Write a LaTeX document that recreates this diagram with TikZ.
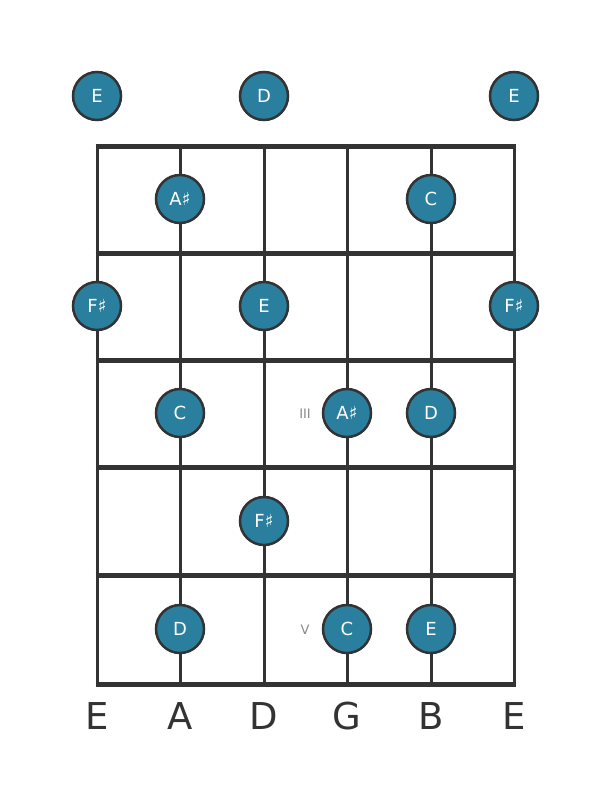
\documentclass[tikz,border=0pt]{standalone}
\usepackage{fontspec}
\setmainfont{DejaVu Sans}
\definecolor{notefill}{HTML}{2A7F9E}
\definecolor{ink}{HTML}{333333}
\definecolor{mark}{HTML}{888888}
\begin{document}
\begin{tikzpicture}[x=1pt,y=-1pt,
  note/.style={circle,fill=notefill,draw=ink,line width=2.5pt,minimum size=48pt,inner sep=0pt,text=white,font=\fontsize{18}{18}\selectfont},
  strline/.style={ink,line width=3pt},
  fretline/.style={ink,line width=5pt},
  strname/.style={text=ink,font=\fontsize{37}{37}\selectfont,anchor=base},
  fretmark/.style={text=mark,font=\fontsize{13}{13}\selectfont}]
\useasboundingbox (0,0) rectangle (611,801);
% strings
\foreach \x [count=\i] in {97,180,264,347,431,514}{
  \coordinate (st\i) at (\x,146);
  \coordinate (sb\i) at (\x,684);
  \draw[strline] (st\i) -- (sb\i);
}
% frets
\foreach \y [count=\j] in {146,253,360,467,575,684}{
  \coordinate (fl\j) at (95.5,\y);
  \coordinate (fr\j) at (515.5,\y);
  \draw[fretline] (fl\j) -- (fr\j);
}
% open notes
\node[note] (o1) at (97,96) {E};
\node[note] (o3) at (264,96) {D};
\node[note] (o6) at (514,96) {E};
% fret 1
\node[note] (n12) at (180,199) {A♯};
\node[note] (n15) at (431,199) {C};
% fret 2
\node[note] (n21) at (97,306) {F♯};
\node[note] (n23) at (264,306) {E};
\node[note] (n26) at (514,306) {F♯};
% fret 3
\node[note] (n32) at (180,413) {C};
\node[note] (n34) at (347,413) {A♯};
\node[note] (n35) at (431,413) {D};
\node[fretmark] (m3) at (305,414) {III};
% fret 4
\node[note] (n43) at (264,521) {F♯};
% fret 5
\node[note] (n52) at (180,629) {D};
\node[note] (n54) at (347,629) {C};
\node[note] (n55) at (431,629) {E};
\node[fretmark] (m5) at (305,630) {V};
% string names
\foreach \x/\n [count=\i] in {97/E,180/A,264/D,347/G,431/B,514/E}{
  \node[strname] (name\i) at (\x,729) {\n};
}
\end{tikzpicture}
\end{document}
